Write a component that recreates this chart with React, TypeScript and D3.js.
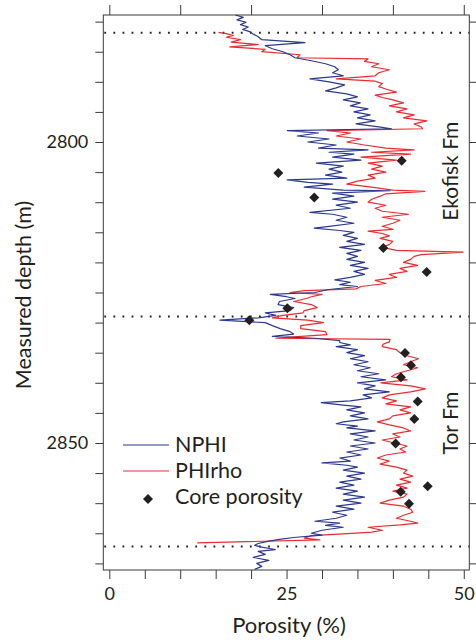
import React, { useEffect, useRef } from "react";
import * as d3 from "d3";

// depth (m) / porosity (%)
const nphi: [number, number][] = [
  [2778.9, 17.8], [2779.3, 18.9], [2779.7, 18.0], [2780.1, 19.3], [2780.5, 18.5], [2780.9, 19.6],
  [2781.3, 18.8], [2781.7, 19.9], [2782.0, 20.2], [2782.5, 21.0], [2783.0, 21.5], [2783.5, 27.6],
  [2784, 22], [2784.5, 23], [2785, 24.5], [2785.5, 25.5], [2786, 26.2], [2786.5, 28.5],
  [2787, 30.5], [2787.5, 31.8], [2788, 32.3], [2788.5, 31.5], [2789, 33], [2789.5, 28.3],
  [2790, 31], [2790.5, 33.2], [2791, 32], [2791.5, 30.5], [2792, 33.5], [2792.5, 35],
  [2793, 33], [2793.5, 35.4], [2794, 34], [2794.5, 36.5], [2795, 34.5], [2795.5, 36.8],
  [2796, 35], [2796.5, 37.5], [2797, 34.8], [2797.5, 38], [2797.8, 39.8], [2798.1, 25.1],
  [2798.5, 29.5], [2799, 26.5], [2799.5, 31], [2800, 28], [2800.5, 32], [2801, 29.5],
  [2801.3, 36.5], [2801.7, 31], [2802, 34.5], [2802.5, 31.5], [2803, 35.5], [2803.5, 29.2],
  [2804, 33], [2804.5, 31], [2805, 32.8], [2805.5, 30.5], [2806, 33.5], [2806.3, 25.1],
  [2806.7, 28], [2807, 31.5], [2807.5, 27.5], [2808, 33], [2808.1, 39.6], [2808.5, 31.5],
  [2809, 34.5], [2809.5, 31.5], [2810, 35], [2810.5, 32], [2811, 34], [2811.7, 28.3],
  [2812, 31.5], [2812.5, 33.5], [2813, 32], [2813.5, 34.5], [2814, 31], [2814.3, 28.9],
  [2814.7, 32.5], [2815, 34.5], [2815.5, 33], [2816, 35], [2816.5, 33.5], [2817, 36],
  [2817.5, 32.5], [2818, 35.5], [2818.5, 33.5], [2819, 35], [2819.5, 33.5], [2820, 36],
  [2820.5, 34], [2821, 36.5], [2821.5, 34.5], [2822, 36], [2822.5, 34], [2822.9, 31.8],
  [2823.3, 34], [2823.7, 32.5], [2824, 35], [2824.5, 31], [2825, 29], [2825.3, 22.7],
  [2825.7, 25], [2826, 26.2], [2826.5, 24], [2827, 23.8], [2827.5, 26], [2828, 25.5],
  [2828.4, 22.0], [2828.8, 23.5], [2829.2, 21], [2829.6, 15.6], [2830, 22.0], [2830.5, 23],
  [2831, 24.1], [2831.5, 25.5], [2831.9, 26], [2832.3, 23], [2832.6, 29], [2833, 32.5],
  [2833.3, 32.5], [2833.7, 34], [2834, 32], [2834.5, 35], [2835, 33.5], [2835.5, 36],
  [2836, 34], [2836.5, 36.5], [2837, 34.5], [2837.5, 36.8], [2838, 35], [2838.5, 38],
  [2839, 35.5], [2839.5, 39], [2840, 35], [2840.5, 37.5], [2841, 36], [2841.5, 39.5],
  [2842, 35.8], [2842.5, 37], [2843, 34], [2843.3, 29.9], [2843.7, 33], [2844, 35.5],
  [2844.5, 33.5], [2845, 36], [2845.5, 34], [2846, 36.5], [2846.5, 33], [2846.8, 32],
  [2847.2, 35], [2847.5, 33.5], [2848, 37.5], [2848.5, 34], [2849, 36.5], [2849.5, 34.5],
  [2850, 37.5], [2850.5, 34], [2851, 36.5], [2851.5, 33.5], [2852, 35.5], [2852.5, 32.5],
  [2853, 34], [2853.3, 30.0], [2853.7, 33.5], [2854, 35], [2854.5, 33], [2855, 36],
  [2855.5, 33.5], [2856, 35.5], [2856.5, 32.5], [2857, 34.5], [2857.5, 32], [2858, 35],
  [2858.5, 33], [2859, 36], [2859.5, 33], [2860, 35.5], [2860.5, 32], [2861, 34.5],
  [2861.5, 31.5], [2862, 33.5], [2862.5, 32], [2863, 29], [2863.3, 32.5], [2863.7, 30.5],
  [2864, 33], [2864.5, 30], [2865, 28.5], [2865.3, 30], [2865.7, 26], [2866, 24],
  [2866.3, 22.5], [2866.7, 21], [2867, 20.5], [2867.3, 21.5], [2867.7, 23.4], [2868, 21],
  [2868.5, 22], [2869, 20.3], [2869.5, 22.5], [2870, 20.8], [2870.5, 21.5], [2871, 20.5],
];

const phiRho: [number, number][] = [
  [2781.8, 15.4], [2782.0, 16.5], [2782.3, 17.5], [2782.6, 16.5], [2783, 18.5], [2783.4, 17.2],
  [2783.8, 21], [2784.2, 17.0], [2784.6, 22], [2785, 21.5], [2785.5, 26.9], [2786, 26.5],
  [2786.2, 36.5], [2786.6, 36.0], [2787, 38], [2787.5, 37], [2788, 39.5], [2788.5, 38],
  [2789, 37.5], [2789.5, 32.0], [2789.9, 37.5], [2790.3, 38.5], [2790.8, 38], [2791.2, 39],
  [2791.7, 40.5], [2792.2, 37.5], [2792.6, 38.5], [2793, 40], [2793.5, 41.5], [2794, 39.5],
  [2794.5, 42], [2795, 40.5], [2795.5, 43], [2796, 41.5], [2796.5, 44.8], [2797, 43],
  [2797.5, 44], [2797.8, 44.2], [2798.1, 30.7], [2798.5, 34], [2799, 32], [2799.5, 35.5],
  [2800, 33.5], [2800.5, 36], [2801, 39], [2801.3, 43], [2801.7, 37], [2802, 42.5],
  [2802.5, 35.5], [2803, 40.5], [2803.5, 36.5], [2804, 38.5], [2804.5, 37], [2805, 39],
  [2805.5, 36.5], [2806, 37.5], [2806.5, 35], [2807, 33.5], [2807.5, 37], [2808, 40],
  [2808.2, 44.5], [2808.6, 39], [2809, 38.2], [2809.5, 37], [2810, 36.5], [2810.5, 39],
  [2811, 37.5], [2811.5, 38.5], [2812, 42.2], [2812.5, 38.5], [2813, 41], [2813.5, 40],
  [2814, 38.5], [2814.5, 40], [2814.8, 36.5], [2815.2, 38.5], [2815.6, 39.5], [2816, 38.2],
  [2816.5, 40], [2817, 39.5], [2817.5, 38.5], [2818, 40.5], [2818.3, 49.9], [2818.7, 44],
  [2819, 43], [2819.5, 42.5], [2820, 41.5], [2820.5, 43.5], [2821, 41], [2821.5, 42],
  [2822, 39.5], [2822.5, 40.5], [2823, 37.5], [2823.5, 39], [2824, 35.5], [2824.4, 34.8],
  [2824.7, 27.5], [2825, 25.5], [2825.3, 30], [2825.7, 28.5], [2826, 27.8], [2826.5, 26.0],
  [2827, 28.5], [2827.5, 29.3], [2828, 27.5], [2828.4, 27.3], [2828.8, 24.5], [2829.2, 23.0],
  [2829.6, 28], [2830, 30.2], [2830.5, 27], [2831, 27.0], [2831.5, 30.5], [2832, 30.7],
  [2832.4, 25.5], [2832.6, 23.5], [2832.8, 39.6], [2833.2, 39.5], [2833.6, 38.6], [2834, 38.5],
  [2834.5, 40.5], [2835, 41], [2835.5, 42], [2836, 43.6], [2836.5, 42.5], [2837, 41.5],
  [2837.5, 43.5], [2838, 42], [2838.5, 40.5], [2839, 39.8], [2839.5, 42], [2840, 38.3],
  [2840.5, 42.5], [2841, 44.6], [2841.5, 42.5], [2842, 39.5], [2842.5, 38.5], [2843, 40.5],
  [2843.5, 39], [2844, 42.5], [2844.5, 41], [2845, 42.5], [2845.5, 40], [2846, 39.5],
  [2846.5, 37.8], [2847, 39.5], [2847.5, 41.5], [2848, 42.5], [2848.5, 40], [2849, 41],
  [2849.5, 38.5], [2850, 40.2], [2850.5, 42], [2851, 41], [2851.5, 41.8], [2852, 39],
  [2852.5, 37.8], [2853, 39.5], [2853.5, 38.2], [2854, 40.5], [2854.5, 42], [2855, 41.5],
  [2855.5, 42.8], [2856, 41], [2856.5, 42.5], [2857, 40.5], [2857.5, 42], [2858, 40],
  [2858.5, 42], [2859, 41.5], [2859.5, 39.5], [2860, 38.2], [2860.5, 41.5], [2861, 42.5],
  [2861.5, 42.8], [2862, 41.5], [2862.5, 40.5], [2863, 42.5], [2863.3, 43.5], [2863.6, 41],
  [2864, 36.5], [2864.5, 38.5], [2864.8, 37], [2865.1, 33], [2865.4, 28.5], [2865.8, 27.5],
  [2866.1, 29.7], [2866.6, 12.4],
];

const coreDepth = [2803.1, 2805.15, 2809.2, 2817.6, 2821.6, 2827.6, 2829.6, 2835.05, 2837.1, 2839.1, 2843.1, 2846.0, 2850.1, 2857.2, 2858.1, 2860.1];
const corePorosity = [41.24, 23.84, 28.91, 38.65, 44.77, 25.11, 19.75, 41.71, 42.55, 41.14, 43.5, 43.02, 40.39, 44.91, 41.1, 42.27];

const formationTops = [2781.85, 2828.97, 2867.2];
const formationNames = ["Ekofisk Fm", "Tor Fm"];
const formationLabelDepths = [2804.85, 2846.7];

const depthDomain = [2778.9, 2871.1];
const porosityDomain = [-0.85, 50.78];

const BLUE = "#2b3990";
const RED = "#ee2a2f";
const INK = "#231f20";
const AXIS = "#3a3a3a";
const FONT = "Lato, 'Open Sans', sans-serif";

export default function App() {
  const width = 476;
  const height = 640;
  const plot = { left: 103.3, right: 469.3, top: 15, bottom: 570 };

  const x = d3.scaleLinear().domain(porosityDomain).range([plot.left, plot.right]);
  const y = d3.scaleLinear().domain(depthDomain).range([plot.top, plot.bottom]);

  const line = d3
    .line<[number, number]>()
    .x((d) => x(d[1]))
    .y((d) => y(d[0]));

  const diamond = d3.symbol(d3.symbolSquare, 50)();

  const bottomRef = useRef<SVGGElement>(null);
  const topRef = useRef<SVGGElement>(null);
  const leftRef = useRef<SVGGElement>(null);
  const rightRef = useRef<SVGGElement>(null);

  useEffect(() => {
    const style = (g: any, size: number) => {
      g.select(".domain").remove();
      g.selectAll("line").attr("stroke", AXIS).attr("stroke-width", 1);
      g.selectAll("text").attr("fill", INK).attr("font-size", size).attr("font-family", FONT);
    };

    d3.select(bottomRef.current)
      .call(
        d3.axisBottom(x)
          .tickValues(d3.range(0, 51, 5))
          .tickSize(9)
          .tickPadding(8)
          .tickFormat((d) => (+d % 25 === 0 ? String(d) : ""))
      )
      .call((g) => style(g, 18));

    d3.select(topRef.current)
      .call(d3.axisTop(x).tickValues(d3.range(0, 51, 10)).tickSize(10).tickFormat(() => ""))
      .call((g) => style(g, 18));

    d3.select(leftRef.current)
      .call(
        d3.axisLeft(y)
          .tickValues(d3.range(2780, 2871, 5))
          .tickSize(8)
          .tickPadding(7)
          .tickFormat((d) => (+d % 50 === 0 ? String(d) : ""))
      )
      .call((g) => style(g, 18));

    d3.select(rightRef.current)
      .call(d3.axisRight(y).tickValues(d3.range(2780, 2871, 10)).tickSize(7).tickFormat(() => ""))
      .call((g) => style(g, 18));
  }, []);

  return (
    <svg width={width} height={height} style={{ position: "absolute", left: 0, top: 0, background: "#fff" }}>
      {formationTops.map((d, i) => (
        <line
          key={i}
          x1={plot.left + 1}
          x2={plot.right}
          y1={y(d)}
          y2={y(d)}
          stroke={INK}
          strokeWidth={2}
          strokeDasharray="1.8 7.3"
        />
      ))}

      <path d={line(phiRho) || ""} fill="none" stroke={RED} strokeWidth={1.2} strokeLinejoin="round" />
      <path d={line(nphi) || ""} fill="none" stroke={BLUE} strokeWidth={1.2} strokeLinejoin="round" />

      {coreDepth.map((d, i) => (
        <path
          key={i}
          d={diamond || ""}
          transform={`translate(${x(corePorosity[i])},${y(d)}) rotate(45)`}
          fill={INK}
        />
      ))}

      <rect
        x={plot.left}
        y={plot.top}
        width={plot.right - plot.left}
        height={plot.bottom - plot.top}
        fill="none"
        stroke={AXIS}
        strokeWidth={1}
      />
      <g ref={bottomRef} transform={`translate(0,${plot.bottom})`} />
      <g ref={topRef} transform={`translate(0,${plot.top})`} />
      <g ref={leftRef} transform={`translate(${plot.left},0)`} />
      <g ref={rightRef} transform={`translate(${plot.right},0)`} />

      <text x={289} y={633} textAnchor="middle" fontSize={22} fontFamily={FONT} fill={INK}>
        Porosity (%)
      </text>
      <text
        transform={`translate(31,295) rotate(-90)`}
        textAnchor="middle"
        fontSize={21.5}
        fontFamily={FONT}
        fill={INK}
      >
        Measured depth (m)
      </text>

      {formationNames.map((name, i) => (
        <text
          key={name}
          transform={`translate(458,${y(formationLabelDepths[i])}) rotate(-90)`}
          textAnchor="middle"
          fontSize={21}
          fontFamily={FONT}
          fill={INK}
        >
          {name}
        </text>
      ))}

      <g fontFamily={FONT} fontSize={21.5} fill={INK}>
        <line x1={123} x2={169} y1={445} y2={445} stroke={BLUE} strokeWidth={1.2} />
        <text x={175} y={452}>NPHI</text>
        <line x1={123} x2={169} y1={471} y2={471} stroke={RED} strokeWidth={1.2} />
        <text x={175} y={478}>PHIrho</text>
        <path d={diamond || ""} transform="translate(148,499) rotate(45)" fill={INK} />
        <text x={175} y={504}>Core porosity</text>
      </g>
    </svg>
  );
}
